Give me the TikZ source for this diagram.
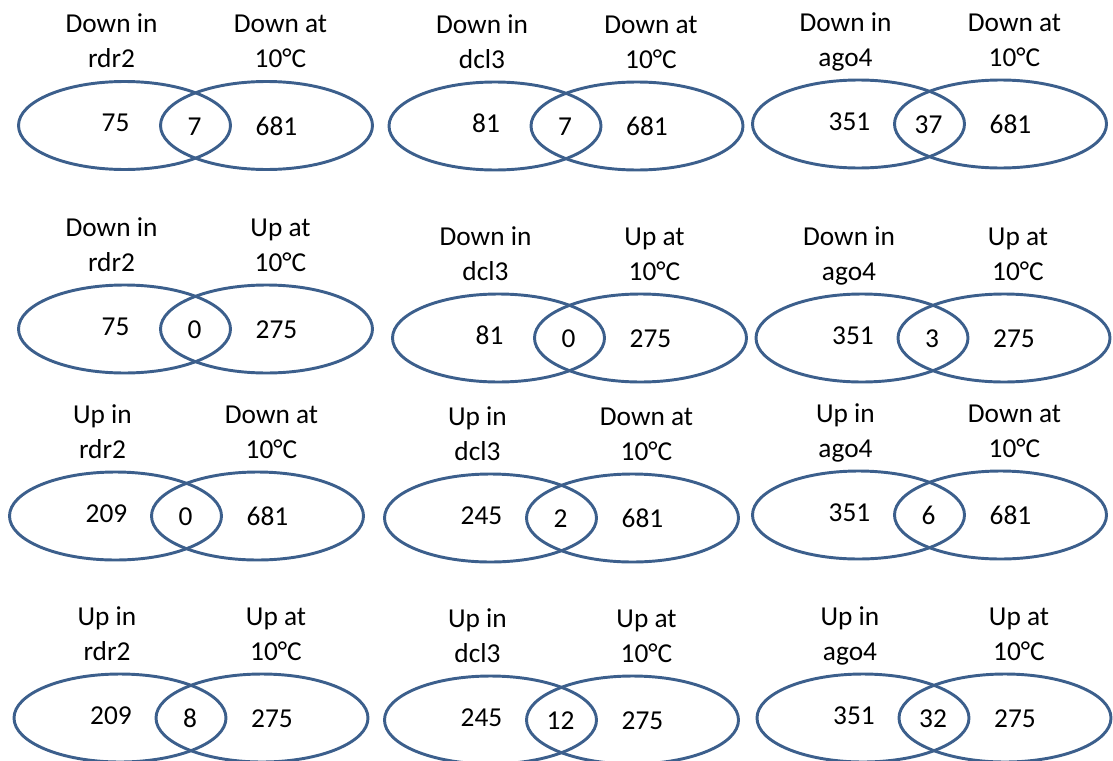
\documentclass[tikz,border=0pt]{standalone}
\usepackage{fontspec}
\setmainfont{Carlito}
\usepackage{tikz}
\usetikzlibrary{shapes.geometric}

\definecolor{vennblue}{RGB}{60,95,140}

% one pair of overlapping sets: id, x, y, left label, right label, left/middle/right counts
\newcommand{\vennpair}[8]{%
  \node[setline] (#1a) at (#2,#3) {};
  \node[setline] (#1b) at (#2+142,#3) {};
  \node[count] (#1na) at (#2-9,#3+6) {#6};
  \node[count] (#1nab) at (#2+70,#3+9.5) {#7};
  \node[count] (#1nb) at (#2+152,#3+9.5) {#8};
  \node[tag] (#1ta) at (#2-13,#3-58) {#4};
  \node[tag] (#1tb) at (#2+156,#3-58) {#5};
}

\begin{document}
\begin{tikzpicture}[
    x=0.75pt, y=-0.75pt,
    setline/.style={ellipse, draw=vennblue, line width=2.2pt, minimum width=159pt, minimum height=66pt, inner sep=0pt},
    count/.style={anchor=base, inner sep=0pt, font=\fontsize{20.5}{24}\selectfont},
    tag/.style={anchor=base, align=center, inner sep=0pt, font=\fontsize{20.5}{26.25}\selectfont}
]
    \useasboundingbox (0,0) rectangle (1113,760);

    % Row 1: down in mutant vs down at 10 C
    \vennpair{ra}{124.5}{125.5}{Down in\\rdr2}{Down at\\10°C}{75}{7}{681}
    \vennpair{rb}{495}{126}{Down in\\dcl3}{Down at\\10°C}{81}{7}{681}
    \vennpair{rc}{858.5}{124}{Down in\\ago4}{Down at\\10°C}{351}{37}{681}

    % Row 2: down in mutant vs up at 10 C
    \vennpair{sa}{124.5}{329}{Down in\\rdr2}{Up at\\10°C}{75}{0}{275}
    \vennpair{sb}{498.5}{338}{Down in\\dcl3}{Up at\\10°C}{81}{0}{275}
    \vennpair{sc}{862}{338}{Down in\\ago4}{Up at\\10°C}{351}{3}{275}

    % Row 3: up in mutant vs down at 10 C
    \vennpair{ta}{115.5}{516}{Up in\\rdr2}{Down at\\10°C}{209}{0}{681}
    \vennpair{tb}{490.5}{518}{Up in\\dcl3}{Down at\\10°C}{245}{2}{681}
    \vennpair{tc}{858.5}{515}{Up in\\ago4}{Down at\\10°C}{351}{6}{681}

    % Row 4: up in mutant vs up at 10 C
    \vennpair{ua}{120}{718}{Up in\\rdr2}{Up at\\10°C}{209}{8}{275}
    \vennpair{ub}{490.5}{720}{Up in\\dcl3}{Up at\\10°C}{245}{12}{275}
    \vennpair{uc}{863}{718}{Up in\\ago4}{Up at\\10°C}{351}{32}{275}

\end{tikzpicture}
\end{document}
